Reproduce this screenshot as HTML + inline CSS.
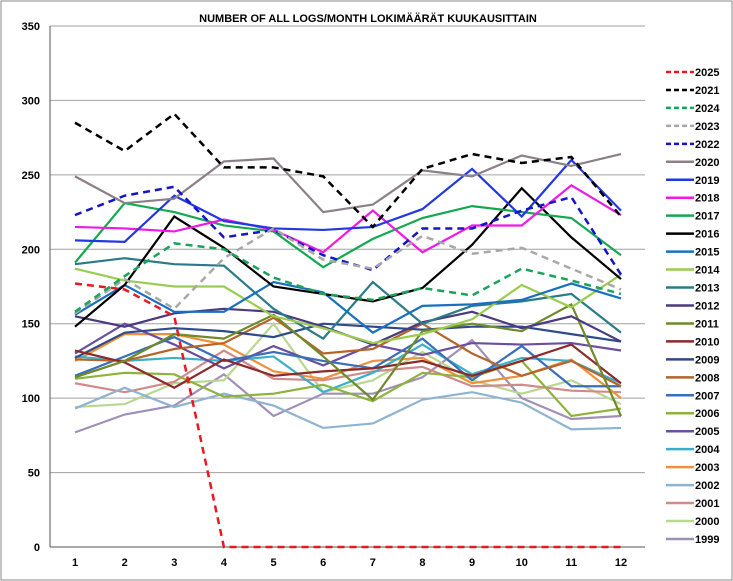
<!DOCTYPE html>
<html><head><meta charset="utf-8"><style>
html,body{margin:0;padding:0;background:#fff;}
svg{display:block;font-family:"Liberation Sans",Arial,sans-serif;}
</style></head><body>
<svg id="chart" width="733" height="581">
<rect x="1" y="1" width="731" height="579" fill="#fff" stroke="#888"/>
<text x="368" y="22" text-anchor="middle" font-size="11" font-weight="bold">NUMBER OF ALL LOGS/MONTH  LOKIMÄÄRÄT KUUKAUSITTAIN</text>
<g id="grid"></g><g id="series"></g><g id="legend"></g>
</svg>
<script>
const months=[1,2,3,4,5,6,7,8,9,10,11,12];
const yTicks=[0,50,100,150,200,250,300,350];
const names=["2025","2021","2024","2023","2022","2020","2019","2018","2017","2016","2015","2014","2013","2012","2011","2010","2009","2008","2007","2006","2005","2004","2003","2002","2001","2000","1999"];
const colors=["#e8191e","#000","#1aa35a","#a8a8a8","#1515c8","#8c8088","#2238e0","#f019e6","#14a850","#000","#1a70c0","#9acc50","#2a7a88","#4a3a80","#6e8a2a","#8b2a2a","#2e4a8a","#b5652a","#3a6fb8","#8db33a","#6a4fa0","#3ab0c8","#f0903a","#8fb4d0","#d08a8a","#b8d890","#a090b8"];
const dashed=[1,1,1,1,1,0,0,0,0,0,0,0,0,0,0,0,0,0,0,0,0,0,0,0,0,0,0];
const v2025=[177,173,155,0,0,0,0,0,0,0,0,0];
const v2021=[285,266,291,255,255,249,215,254,264,258,262,222];
const v2024=[158,182,204,200,181,170,166,174,169,187,179,170];
const v2023=[157,180,160,194,214,193,187,209,197,201,187,173];
const v2022=[223,236,242,208,213,196,186,214,214,226,235,183];
const v2020=[249,231,234,259,261,225,230,253,249,263,256,264];
const v2019=[206,205,236,219,214,213,215,227,254,222,260,226];
const v2018=[215,214,212,220,213,198,226,198,216,216,243,223];
const v2017=[191,231,225,216,212,188,207,221,229,225,221,196];
const v2016=[148,176,222,201,175,170,165,174,203,241,208,180];
const v2015=[156,176,158,158,178,171,144,162,163,166,177,167];
const v2014=[187,179,175,175,155,147,137,143,153,176,161,183];
const v2013=[190,194,190,189,160,140,178,150,162,165,170,144];
const v2012=[155,148,157,160,158,148,136,151,158,147,155,138];
const v2011=[114,125,143,140,156,128,99,145,150,145,163,88];
const v2010=[132,124,107,126,115,118,120,125,115,125,136,110];
const v2009=[127,144,147,145,141,150,148,146,148,148,143,138];
const v2008=[126,125,133,137,154,130,133,150,130,115,125,108];
const v2007=[115,128,141,125,131,125,120,140,112,135,108,108];
const v2006=[113,117,116,101,103,109,98,117,114,125,88,93];
const v2005=[130,150,136,120,135,122,136,129,137,136,137,132];
const v2004=[128,125,127,125,128,104,117,136,116,127,125,110];
const v2003=[125,143,143,136,118,113,125,127,110,115,126,100];
const v2002=[93,107,94,103,95,80,83,99,104,97,79,80];
const v2001=[110,104,111,132,113,112,118,121,108,109,105,104];
const v2000=[94,96,110,112,150,104,112,131,112,103,112,96];
const v1999=[77,89,95,116,88,103,103,114,139,100,86,88];
const allValues=[v2025,v2021,v2024,v2023,v2022,v2020,v2019,v2018,v2017,v2016,v2015,v2014,v2013,v2012,v2011,v2010,v2009,v2008,v2007,v2006,v2005,v2004,v2003,v2002,v2001,v2000,v1999];

const NS="http://www.w3.org/2000/svg";
const X0=50,X1=645,Y0=547,Y1=26,VMAX=350;
function xs(m){return 75+(m-1)*(621-75)/11;}
function ys(v){return Y0-(v/VMAX)*(Y0-Y1);}
const grid=document.getElementById('grid');
yTicks.forEach(t=>{
  const l=document.createElementNS(NS,'line');
  l.setAttribute('x1',X0);l.setAttribute('x2',X1);l.setAttribute('y1',ys(t));l.setAttribute('y2',ys(t));
  l.setAttribute('stroke',t===0?'#555':'#a0a0a0');l.setAttribute('stroke-width','1');
  
  
  grid.appendChild(l);
  const tx=document.createElementNS(NS,'text');
  tx.setAttribute('x',40);tx.setAttribute('y',ys(t)+4);tx.setAttribute('text-anchor','end');
  tx.setAttribute('font-size','11');tx.setAttribute('font-weight','bold');
  tx.textContent=t;
  
  
  grid.appendChild(tx);
});
const ax=document.createElementNS(NS,'line');
ax.setAttribute('x1',X0);ax.setAttribute('x2',X0);ax.setAttribute('y1',Y1);ax.setAttribute('y2',Y0);
ax.setAttribute('stroke','#555');


grid.appendChild(ax);
months.forEach(m=>{
  const tx=document.createElementNS(NS,'text');
  tx.setAttribute('x',xs(m));tx.setAttribute('y',566);tx.setAttribute('text-anchor','middle');
  tx.setAttribute('font-size','11');tx.setAttribute('font-weight','bold');
  tx.textContent=m;
  
  
  grid.appendChild(tx);
});
const sg=document.getElementById('series');
for(let i=allValues.length-1;i>=0;i--){
  const p=document.createElementNS(NS,'polyline');
  p.setAttribute('points',allValues[i].map((v,k)=>xs(months[k])+','+ys(v)).join(' '));
  p.setAttribute('fill','none');p.setAttribute('stroke',colors[i]);
  p.setAttribute('stroke-width',dashed[i]?'2.5':'2.2');
  if(dashed[i])p.setAttribute('stroke-dasharray','7,5');
  
  
  sg.appendChild(p);
}
const lg=document.getElementById('legend');
names.forEach((n,i)=>{
  const y=72+i*17.96;
  const l=document.createElementNS(NS,'line');
  l.setAttribute('x1',666);l.setAttribute('x2',694);l.setAttribute('y1',y);l.setAttribute('y2',y);
  l.setAttribute('stroke',colors[i]);l.setAttribute('stroke-width','2.5');
  if(dashed[i])l.setAttribute('stroke-dasharray','5,3');
  
  
  lg.appendChild(l);
  const t=document.createElementNS(NS,'text');
  t.setAttribute('x',695);t.setAttribute('y',y+4);t.setAttribute('font-size','11');t.setAttribute('font-weight','bold');
  t.textContent=n;
  
  
  lg.appendChild(t);
});
</script>
</body></html>
